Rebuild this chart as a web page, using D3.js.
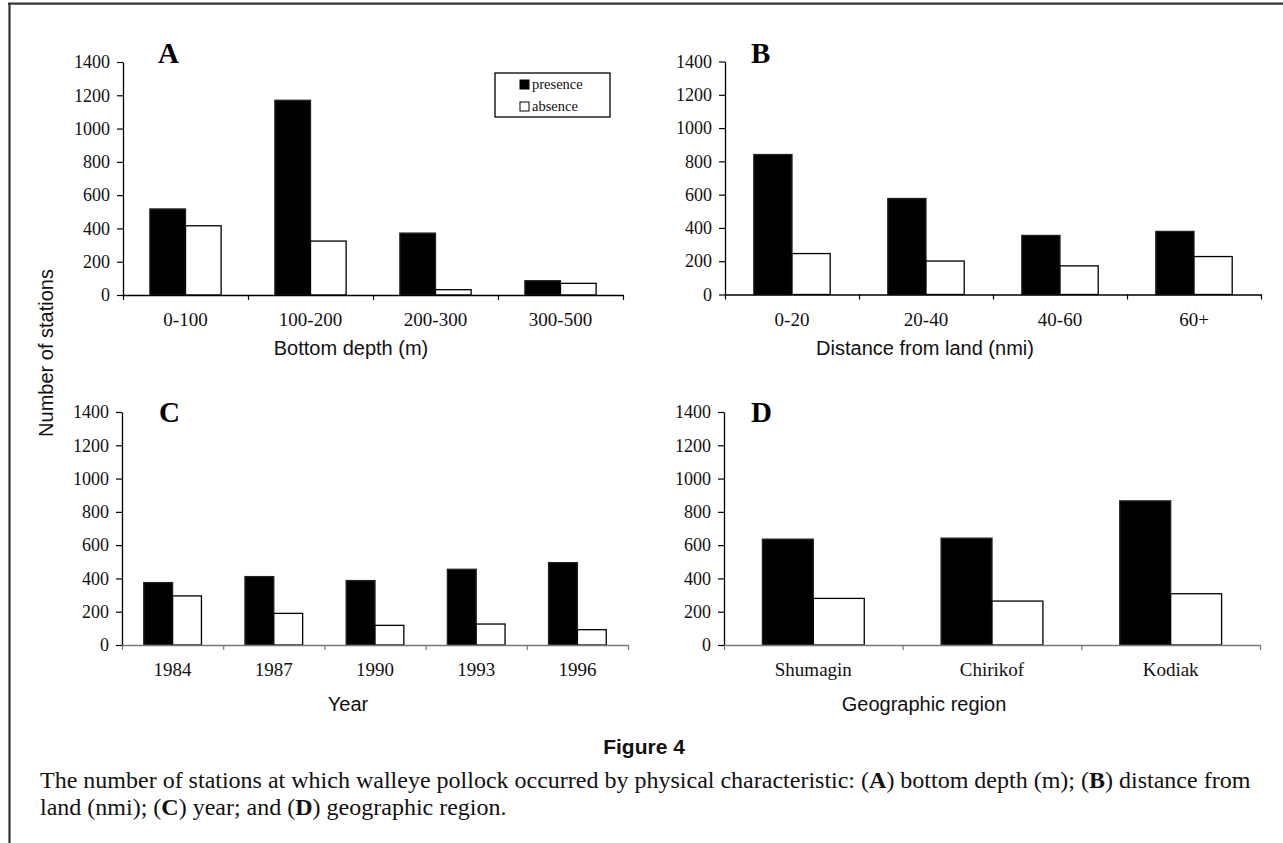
<!DOCTYPE html>
<html>
<head>
<meta charset="utf-8">
<script src="https://cdn.jsdelivr.net/npm/d3@7"></script>
<style>
  body { margin: 0; background: #fff; }
  svg { display: block; }
</style>
</head>
<body>
<div id="chart"></div>
<script>
const W = 1283, H = 843;

const seriesNames = ["presence", "absence"];

// A: bottom depth (m)
const depthCats = ["0-100", "100-200", "200-300", "300-500"];
const depthPresence = [517, 1170, 372, 86];
const depthAbsence = [416, 324, 32, 70];

// B: distance from land (nmi)
const distCats = ["0-20", "20-40", "40-60", "60+"];
const distPresence = [841, 577, 355, 379];
const distAbsence = [246, 201, 172, 228];

// C: year
const yearCats = ["1984", "1987", "1990", "1993", "1996"];
const yearPresence = [375, 411, 387, 455, 495];
const yearAbsence = [295, 190, 118, 126, 92];

// D: geographic region
const regionCats = ["Shumagin", "Chirikof", "Kodiak"];
const regionPresence = [636, 642, 866];
const regionAbsence = [280, 264, 308];

const yTicks = [0, 200, 400, 600, 800, 1000, 1200, 1400];

const serif = "'Liberation Serif', 'Times New Roman', serif";
const sans = "'Liberation Sans', Arial, sans-serif";

const svg = d3.select("#chart")
  .append("svg")
  .attr("width", W)
  .attr("height", H);

// page frame (top and left rules only)
svg.append("line")
  .attr("x1", 8).attr("x2", W).attr("y1", 3.7).attr("y2", 3.7)
  .attr("stroke", "#333").attr("stroke-width", 2.2);
svg.append("line")
  .attr("x1", 9.5).attr("x2", 9.5).attr("y1", 3).attr("y2", H)
  .attr("stroke", "#333").attr("stroke-width", 2.2);

const panels = [
  { letter: "A", cats: depthCats, pres: depthPresence, abs: depthAbsence,
    x0: 123, x1: 623, yTop: 62, yBot: 295, axisColor: "#000",
    title: "Bottom depth (m)", titleX: 351, titleY: 355, letterX: 158, letterY: 63 },
  { letter: "B", cats: distCats, pres: distPresence, abs: distAbsence,
    x0: 725, x1: 1261, yTop: 61.5, yBot: 294.5, axisColor: "#000",
    title: "Distance from land (nmi)", titleX: 925, titleY: 355, letterX: 751, letterY: 63 },
  { letter: "C", cats: yearCats, pres: yearPresence, abs: yearAbsence,
    x0: 122, x1: 628, yTop: 412, yBot: 645, axisColor: "#777",
    title: "Year", titleX: 348, titleY: 711, letterX: 159, letterY: 422 },
  { letter: "D", cats: regionCats, pres: regionPresence, abs: regionAbsence,
    x0: 724, x1: 1260, yTop: 412, yBot: 645, axisColor: "#777",
    title: "Geographic region", titleX: 924, titleY: 711, letterX: 751, letterY: 422 }
];

panels.forEach(function(p) {
  const g = svg.append("g");

  // Excel-like gap width of 75%
  const x = d3.scaleBand()
    .domain(p.cats)
    .range([p.x0, p.x1])
    .paddingInner(0.43)
    .paddingOuter(0.215);
  const xs = d3.scaleBand()
    .domain(seriesNames)
    .range([0, x.bandwidth()]);
  const y = d3.scaleLinear()
    .domain([0, 1400])
    .range([p.yBot, p.yTop]);

  const rows = p.cats.map((c, i) => ({ cat: c, presence: p.pres[i], absence: p.abs[i] }));

  const groups = g.selectAll("g.cat")
    .data(rows)
    .enter()
    .append("g")
    .attr("class", "cat")
    .attr("transform", d => "translate(" + x(d.cat) + ",0)");

  groups.selectAll("rect")
    .data(d => seriesNames.map(s => ({ key: s, value: d[s] })))
    .enter()
    .append("rect")
    .attr("x", d => xs(d.key))
    .attr("y", d => y(d.value))
    .attr("width", xs.bandwidth())
    .attr("height", d => p.yBot - y(d.value))
    .attr("fill", d => d.key === "presence" ? "#000" : "#fff")
    .attr("stroke", d => d.key === "presence" ? "#222" : "#000")
    .attr("stroke-width", 1.3);

  // y axis
  const yAxis = g.append("g")
    .attr("transform", "translate(" + p.x0 + ",0)")
    .call(d3.axisLeft(y).tickValues(yTicks).tickFormat(d3.format("d"))
      .tickSize(6).tickSizeOuter(0).tickPadding(7));
  yAxis.select(".domain").attr("stroke", "#000").attr("stroke-width", 1.3);
  yAxis.selectAll(".tick line").attr("stroke", "#000").attr("stroke-width", 1.2);
  yAxis.selectAll("text")
    .attr("font-family", serif)
    .attr("font-size", 18)
    .attr("fill", "#111");

  // x axis: tick marks between categories
  const bounds = d3.scaleLinear().domain([0, p.cats.length]).range([p.x0, p.x1]);
  const xAxis = g.append("g")
    .attr("transform", "translate(0," + p.yBot + ")")
    .call(d3.axisBottom(bounds).tickValues(d3.range(p.cats.length + 1))
      .tickFormat("").tickSize(5).tickSizeOuter(0));
  xAxis.select(".domain").attr("stroke", p.axisColor).attr("stroke-width", 1.6);
  xAxis.selectAll(".tick line").attr("stroke", p.axisColor).attr("stroke-width", 1.2);

  // category labels
  g.selectAll("text.cat")
    .data(p.cats)
    .enter()
    .append("text")
    .attr("class", "cat")
    .attr("x", d => x(d) + x.bandwidth() / 2)
    .attr("y", p.yBot + 31)
    .attr("text-anchor", "middle")
    .attr("font-family", serif)
    .attr("font-size", 19)
    .attr("fill", "#111")
    .text(d => d);

  // axis title
  g.append("text")
    .attr("x", p.titleX)
    .attr("y", p.titleY)
    .attr("text-anchor", "middle")
    .attr("font-family", sans)
    .attr("font-size", 20)
    .attr("fill", "#111")
    .text(p.title);

  // panel letter
  g.append("text")
    .attr("x", p.letterX)
    .attr("y", p.letterY)
    .attr("font-family", serif)
    .attr("font-weight", "bold")
    .attr("font-size", 29)
    .attr("fill", "#000")
    .text(p.letter);
});

// legend inside panel A
const legend = svg.append("g").attr("transform", "translate(495,73)");
legend.append("rect")
  .attr("width", 115).attr("height", 44)
  .attr("fill", "#fff").attr("stroke", "#000").attr("stroke-width", 1.3);
const legendRows = legend.selectAll("g.item")
  .data(seriesNames)
  .enter()
  .append("g")
  .attr("class", "item")
  .attr("transform", (d, i) => "translate(25," + (7 + i * 22) + ")");
legendRows.append("rect")
  .attr("width", 9).attr("height", 9)
  .attr("fill", d => d === "presence" ? "#000" : "#fff")
  .attr("stroke", "#000").attr("stroke-width", 1);
legendRows.append("text")
  .attr("x", 12).attr("y", 9)
  .attr("font-family", serif)
  .attr("font-size", 14.5)
  .attr("fill", "#111")
  .text(d => d);

// y title shared by all panels
svg.append("text")
  .attr("transform", "translate(53,353) rotate(-90)")
  .attr("text-anchor", "middle")
  .attr("font-family", sans)
  .attr("font-size", 20)
  .attr("fill", "#111")
  .text("Number of stations");

// figure caption
svg.append("text")
  .attr("x", 644).attr("y", 754)
  .attr("text-anchor", "middle")
  .attr("font-family", sans)
  .attr("font-weight", "bold")
  .attr("font-size", 21)
  .attr("fill", "#111")
  .text("Figure 4");

const captionLines = [
  [["The number of stations at which walleye pollock occurred by physical characteristic: (", false],
   ["A", true], [") bottom depth (m); (", false], ["B", true], [") distance from", false]],
  [["land (nmi); (", false], ["C", true], [") year; and (", false], ["D", true], [") geographic region.", false]]
];

const captionG = svg.append("g");
const lineTexts = captionLines.map(function(parts, i) {
  const t = captionG.append("text")
    .attr("x", 40)
    .attr("y", 788 + i * 27)
    .attr("font-family", serif)
    .attr("font-size", 21)
    .attr("fill", "#111");
  parts.forEach(function(part) {
    t.append("tspan")
      .attr("font-weight", part[1] ? "bold" : null)
      .text(part[0]);
  });
  return t;
});
// fit first caption line to the measured width
const w0 = lineTexts[0].node().getComputedTextLength();
const fs = Math.max(17, Math.min(24, 21 * 1211 / w0));
lineTexts.forEach(t => t.attr("font-size", fs));
</script>
</body>
</html>
